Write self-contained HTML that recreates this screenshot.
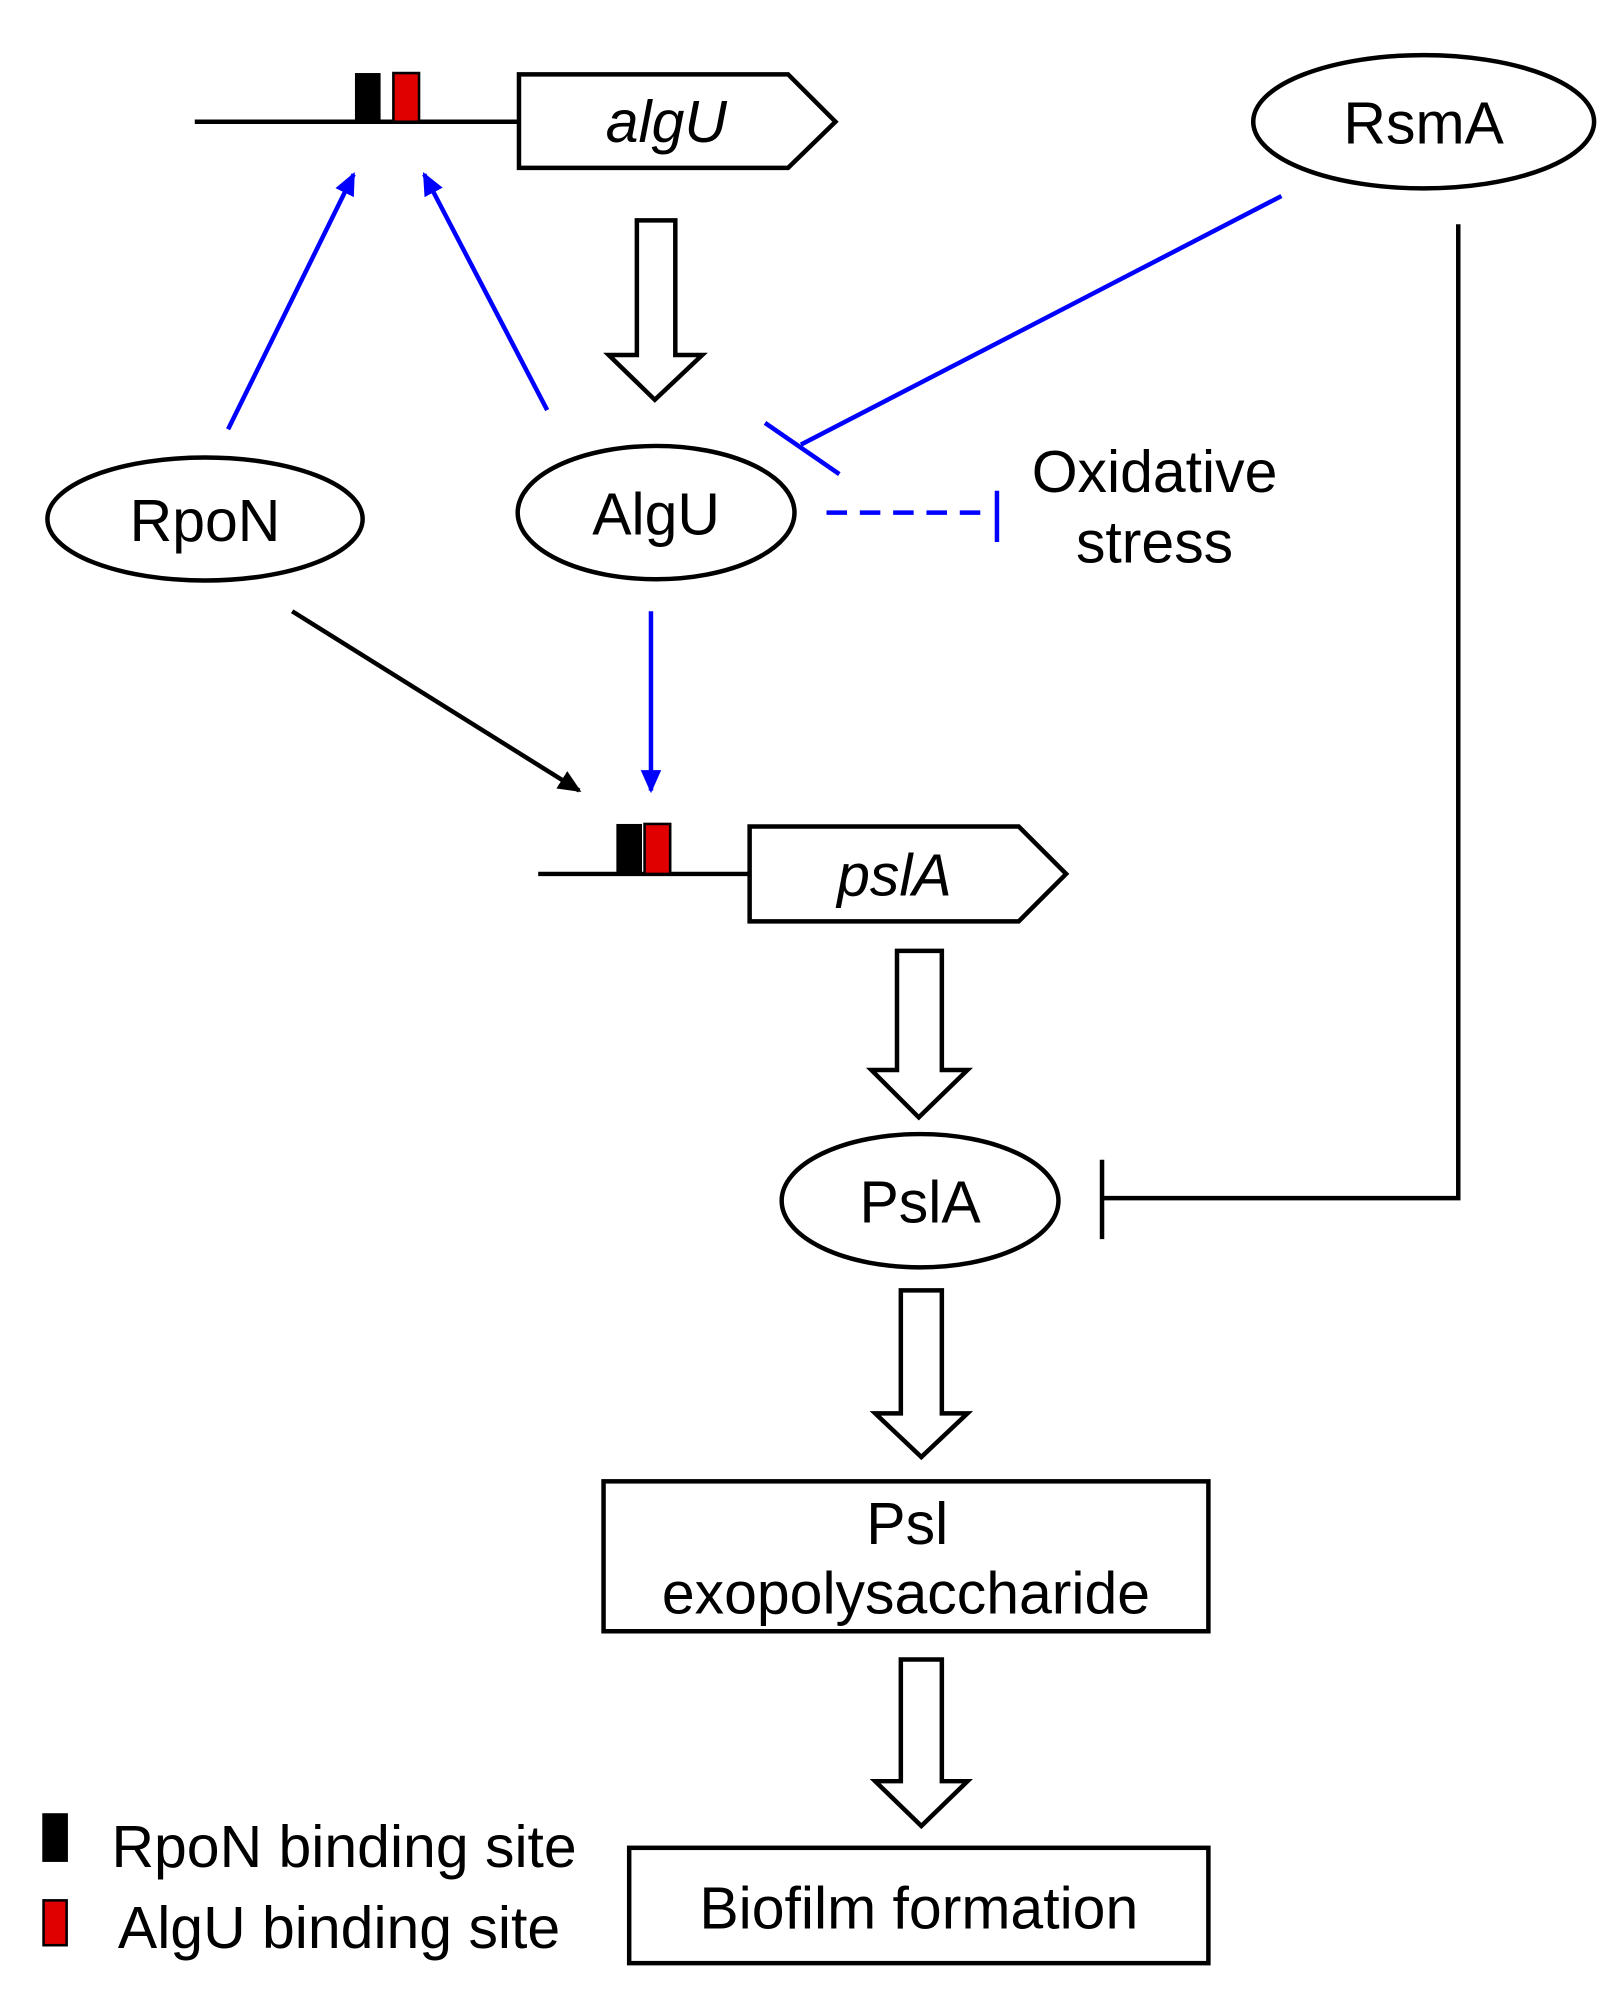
<!DOCTYPE html>
<html><head><meta charset="utf-8"><style>
html,body{margin:0;padding:0;background:#fff}
svg{display:block}
text{font-family:"Liberation Sans",Arial,sans-serif;font-size:46px;fill:#000}
</style></head><body>
<svg width="1621" height="2008" viewBox="0 0 1265 1567" preserveAspectRatio="none" xmlns="http://www.w3.org/2000/svg">
<defs>
<marker id="ab" markerWidth="18" markerHeight="16" refX="16" refY="8" orient="auto" markerUnits="userSpaceOnUse" viewBox="0 0 18 16"><path d="M0,0 L18,8 L0,16 z" fill="#0000ff"/></marker>
<marker id="ak" markerWidth="18" markerHeight="16" refX="16" refY="8" orient="auto" markerUnits="userSpaceOnUse" viewBox="0 0 18 16"><path d="M0,0 L18,8 L0,16 z" fill="#000"/></marker>
</defs>
<g stroke="#000" stroke-width="3.5" fill="none">
<line x1="152" y1="95" x2="405" y2="95"/>
<polygon points="405,58 615,58 652,95 615,131 405,131" fill="#fff"/>
<ellipse cx="1111" cy="95" rx="133" ry="52" fill="#fff"/>
<polygon points="497,172 527,172 527,277 548,277 511,312 475,277 497,277" fill="#fff"/>
<ellipse cx="160" cy="405" rx="123" ry="48" fill="#fff"/>
<ellipse cx="512" cy="400" rx="108" ry="52" fill="#fff"/>
<polyline points="1138,175 1138,935 860,935"/>
<line x1="860" y1="905" x2="860" y2="967"/>
<line x1="420" y1="682" x2="585" y2="682"/>
<polygon points="585,645 795,645 832,682 795,719 585,719" fill="#fff"/>
<polygon points="700,742 735,742 735,835 755,835 717,872 680,835 700,835" fill="#fff"/>
<ellipse cx="718" cy="937" rx="108" ry="52" fill="#fff"/>
<polygon points="703,1007 735,1007 735,1103 755,1103 719,1137 683,1103 703,1103" fill="#fff"/>
<rect x="471" y="1156" width="472" height="117" fill="#fff"/>
<polygon points="703,1295 735,1295 735,1390 755,1390 719,1425 683,1390 703,1390" fill="#fff"/>
<rect x="491" y="1442" width="452" height="90" fill="#fff"/>
<line x1="228" y1="477" x2="452" y2="617" marker-end="url(#ak)"/>
</g>
<rect x="277" y="57" width="20" height="38" fill="#000"/>
<rect x="307" y="57" width="20" height="38" fill="#e00000" stroke="#000" stroke-width="2"/>
<rect x="481" y="643" width="20" height="39" fill="#000"/>
<rect x="503" y="643" width="20" height="39" fill="#e00000" stroke="#000" stroke-width="2"/>
<g stroke="#0000ff" stroke-width="3.5" fill="none">
<line x1="178" y1="335" x2="276" y2="136" marker-end="url(#ab)"/>
<line x1="427" y1="320" x2="331" y2="136" marker-end="url(#ab)"/>
<line x1="1000" y1="153" x2="625" y2="347"/>
<line x1="597" y1="330" x2="655" y2="370"/>
<line x1="645" y1="400" x2="775" y2="400" stroke-dasharray="16,10"/>
<line x1="778" y1="383" x2="778" y2="423"/>
<line x1="508" y1="477" x2="508" y2="617" marker-end="url(#ab)"/>
</g>
<text x="520" y="111" text-anchor="middle" font-style="italic">algU</text>
<text x="1111" y="112" text-anchor="middle">RsmA</text>
<text x="160" y="422" text-anchor="middle">RpoN</text>
<text x="512" y="417" text-anchor="middle">AlgU</text>
<text x="901" y="384" text-anchor="middle">Oxidative</text>
<text x="901" y="439" text-anchor="middle">stress</text>
<text x="698" y="699" text-anchor="middle" font-style="italic">pslA</text>
<text x="718" y="954" text-anchor="middle">PslA</text>
<text x="708" y="1205" text-anchor="middle">Psl</text>
<text x="707" y="1259" text-anchor="middle">exopolysaccharide</text>
<text x="717" y="1505" text-anchor="middle">Biofilm formation</text>
<rect x="33" y="1415" width="20" height="38" fill="#000"/>
<rect x="34" y="1483" width="18" height="35" fill="#e00000" stroke="#000" stroke-width="2"/>
<text x="87" y="1457">RpoN binding site</text>
<text x="92" y="1520">AlgU binding site</text>
</svg>
</body></html>
